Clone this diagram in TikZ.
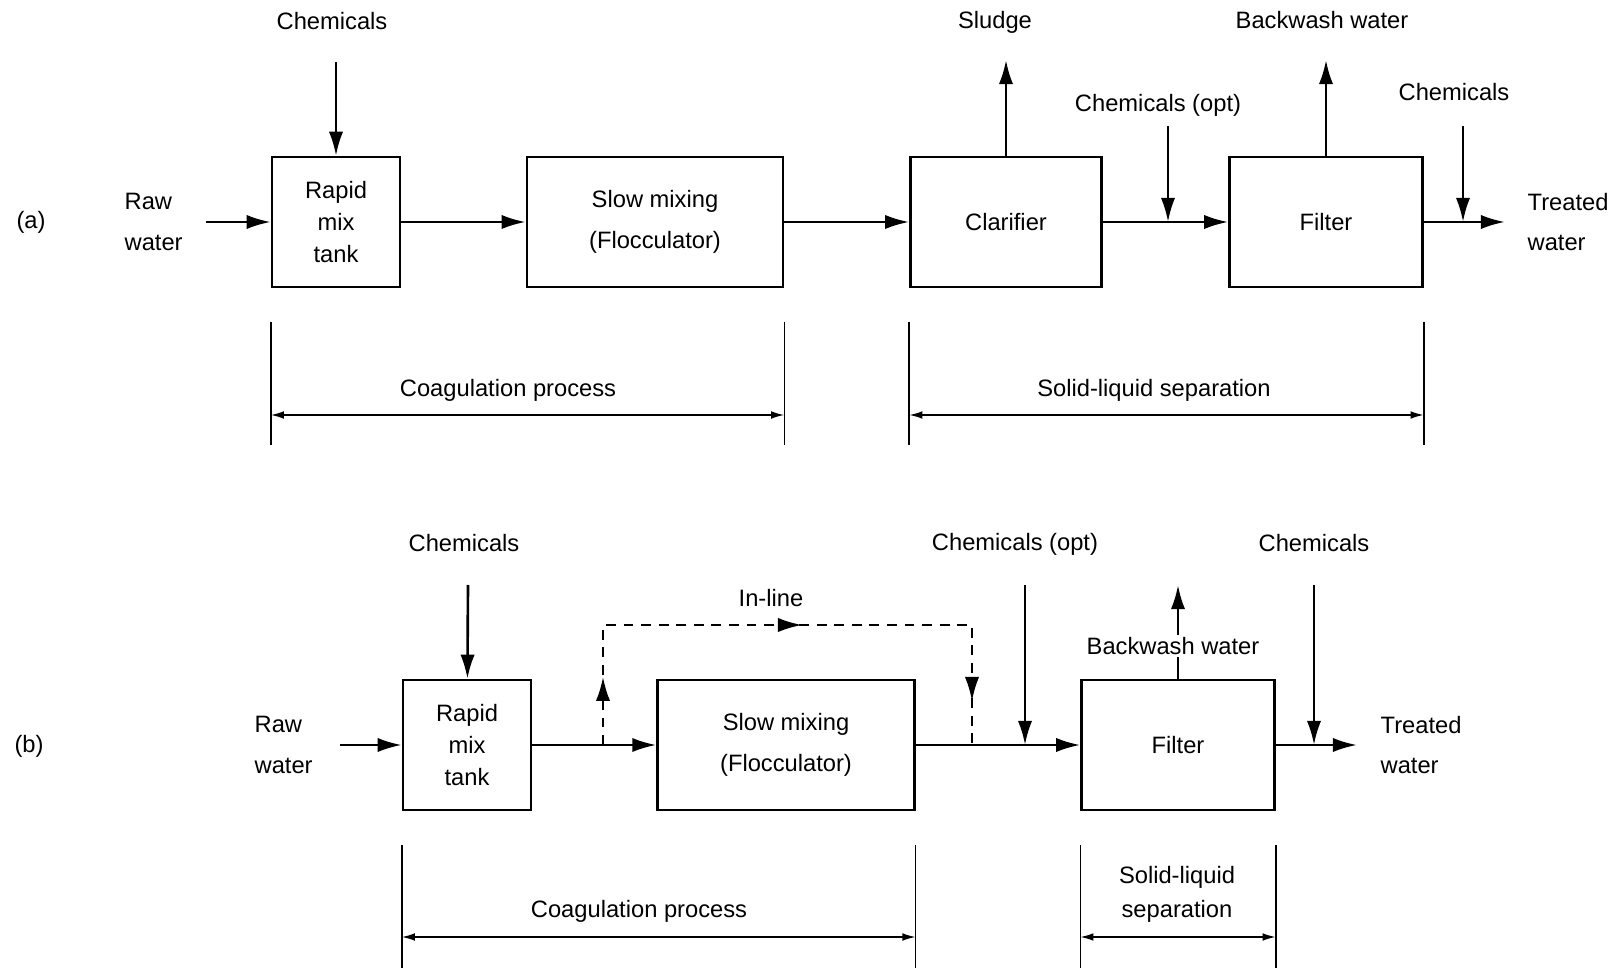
\documentclass[tikz,border=0pt]{standalone}
\usepackage{fontspec}
\setmainfont{Liberation Sans}
\usetikzlibrary{positioning,arrows.meta,decorations.markings}

\begin{document}
\begin{tikzpicture}[%
        x=0.016cm, y=-0.016cm,
        line width=1.2pt,
        >={Latex[length=11pt,width=6.5pt]},
        every node/.style={font=\fontsize{10.8}{13}\selectfont},
        stage/.style={%
          draw,
          line width=1.1pt,
          minimum height=2.08cm,
          align=center,
          font=\fontsize{10.8}{18.5}\selectfont
        },
        tank/.style={font=\fontsize{10.8}{14.5}\selectfont},
        twoline/.style={align=left, font=\fontsize{10.8}{18.5}\selectfont},
        bracketline/.style={line width=0.7pt},
        spanarrow/.style={line width=0.7pt, {Latex[length=6pt,width=3.5pt]}-{Latex[length=6pt,width=3.5pt]}},
        inline/.style={%
          line width=1.1pt,
          dash pattern=on 4.5pt off 3.5pt,
          decoration={markings,
            mark=at position 0.112 with {\arrow{>}},
            mark=at position 0.524 with {\arrow{>}},
            mark=at position 0.928 with {\arrow{>}}},
          postaction={decorate}
        }
      ]
      \useasboundingbox (0,0) rectangle (1616,968);

      % (a) with clarifier
      \node (tagA) at (31,222) {(a)};
      \node[twoline, anchor=west] (rawA) at (116,222) {Raw\\water};
      \node[stage, tank, minimum width=2.05cm] (a1) at (336,222) {Rapid\\mix\\tank};
      \node[stage, minimum width=4.1cm] (a2) at (655,222) {Slow mixing\\(Flocculator)};
      \node[stage, minimum width=3.06cm] (a3) at (1006,222) {Clarifier};
      \node[stage, minimum width=3.09cm] (a4) at (1326,222) {Filter};
      \node[twoline, anchor=west] (treatedA) at (1519,222) {Treated\\water};
      \node (chemA1) at (332,21) {Chemicals};
      \node (sludgeA) at (995,22) {Sludge};
      \node (chemA2) at (1158,105) {Chemicals (opt)};
      \node (washA) at (1322,20) {Backwash water};
      \node (chemA3) at (1454,92) {Chemicals};
      \node (coagA) at (508,390) {Coagulation process};
      \node (sepA) at (1154,390) {Solid-liquid separation};

      \coordinate (inA) at (206,222);
      \coordinate (outA) at (1505,222);
      \coordinate (dose1) at (336,62);
      \coordinate (sludge1) at (1006,60);
      \coordinate (dose2) at (1168,126);
      \coordinate (join2) at (1168,222);
      \coordinate (wash1) at (1326,60);
      \coordinate (dose3) at (1463,126);
      \coordinate (join3) at (1463,222);

      \path[->] (inA) edge (a1)
      (dose1) edge (a1)
      (a1) edge (a2)
      (a2) edge (a3)
      (a3) edge (a4)
      (a3) edge (sludge1)
      (dose2) edge (join2)
      (a4) edge (wash1)
      (dose3) edge (join3)
      (a4) edge (outA);

      \draw[bracketline] (a1.west |- 0,322) -- (a1.west |- 0,445);
      \draw[bracketline] (a2.east |- 0,322) -- (a2.east |- 0,445);
      \draw[spanarrow] (a1.west |- 0,415) -- (a2.east |- 0,415);
      \draw[bracketline] (a3.west |- 0,322) -- (a3.west |- 0,445);
      \draw[bracketline] (a4.east |- 0,322) -- (a4.east |- 0,445);
      \draw[spanarrow] (a3.west |- 0,415) -- (a4.east |- 0,415);

      % (b) direct filtration
      \node (tagB) at (29,746) {(b)};
      \node[twoline, anchor=west] (rawB) at (246,745) {Raw\\water};
      \node[stage, tank, minimum width=2.05cm] (b1) at (467,745) {Rapid\\mix\\tank};
      \node[stage, minimum width=4.11cm] (b2) at (786,745) {Slow mixing\\(Flocculator)};
      \node[stage, minimum width=3.09cm] (b3) at (1178,745) {Filter};
      \node[twoline, anchor=west] (treatedB) at (1372,745) {Treated\\water};
      \node (chemB1) at (464,543) {Chemicals};
      \node (inlineB) at (771,598) {In-line};
      \node (chemB2) at (1015,544) {Chemicals (opt)};
      \node (chemB3) at (1314,543) {Chemicals};
      \node (coagB) at (639,911) {Coagulation process};
      \node[align=center, font=\fontsize{10.8}{15.5}\selectfont] (sepB) at (1177,894) {Solid-liquid\\separation};

      \coordinate (inB) at (340,745);
      \coordinate (outB) at (1357,745);
      \coordinate (dose4) at (468,585);
      \coordinate (dose5) at (1025,585);
      \coordinate (join5) at (1025,745);
      \coordinate (wash2) at (1178,585);
      \coordinate (dose6) at (1314,585);
      \coordinate (join6) at (1314,745);
      \coordinate (split) at (603,745);
      \coordinate (up) at (603,625);
      \coordinate (over) at (972,625);
      \coordinate (merge) at (972,745);

      \path[->] (inB) edge (b1)
      (dose4) edge (b1)
      (b1) edge (b2)
      (b2) edge (b3)
      (dose5) edge (join5)
      (b3) edge (wash2)
      (dose6) edge (join6)
      (b3) edge (outB);

      \draw[inline] (split) -- (up) -- (over) -- (merge);
      \node[fill=white, inner sep=1pt] (washB) at (1173,646) {Backwash water};

      \draw[bracketline] (b1.west |- 0,845) -- (b1.west |- 0,968);
      \draw[bracketline] (b2.east |- 0,845) -- (b2.east |- 0,968);
      \draw[spanarrow] (b1.west |- 0,937) -- (b2.east |- 0,937);
      \draw[bracketline] (b3.west |- 0,845) -- (b3.west |- 0,968);
      \draw[bracketline] (b3.east |- 0,845) -- (b3.east |- 0,968);
      \draw[spanarrow] (b3.west |- 0,937) -- (b3.east |- 0,937);

    \end{tikzpicture}
\end{document}
